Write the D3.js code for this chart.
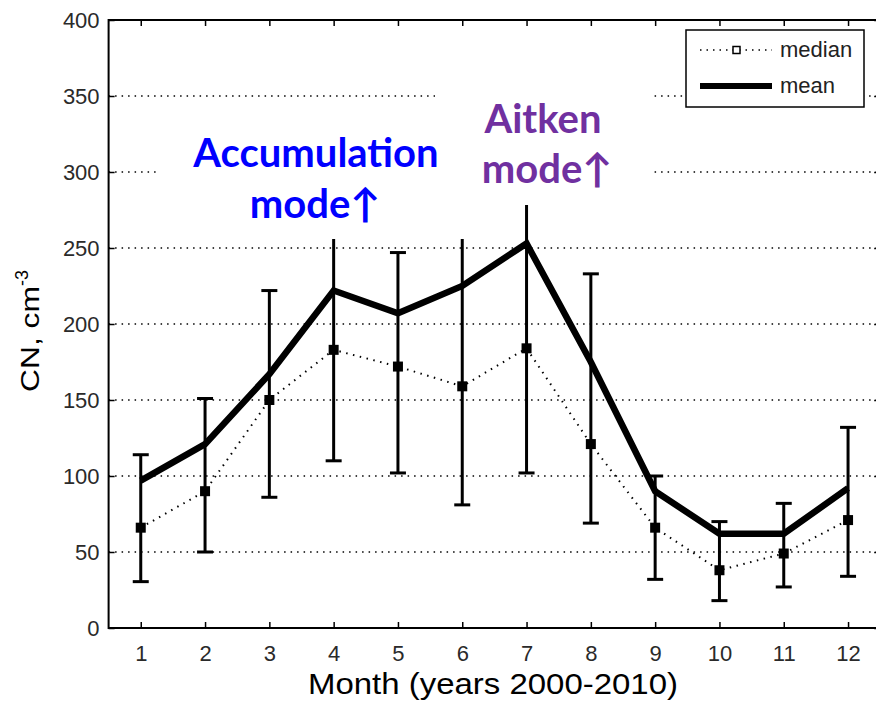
<!DOCTYPE html>
<html>
<head>
<meta charset="utf-8">
<script src="https://cdn.jsdelivr.net/npm/d3@7"></script>
<style>
  html, body { margin: 0; padding: 0; background: #fff; }
  svg { display: block; }
  .tick text { font-family: "Liberation Sans", Arial, sans-serif; fill: #2a2a2a; }
</style>
</head>
<body>
<svg id="chart" width="876" height="701"></svg>
<script>
// Monthly CN concentration, cm^-3 (2000-2010)
const months = [1, 2, 3, 4, 5, 6, 7, 8, 9, 10, 11, 12];
const meanValues = [97, 121, 167, 222, 207, 225, 253, 175, 90, 62, 62, 92];
const medianValues = [66, 90, 150, 183, 172, 159, 184, 121, 66, 38, 49, 71];
const errorLow = [30.5, 50, 86, 110, 102, 81, 102, 69, 32, 18, 27, 34];
const errorHigh = [114, 151, 222, 290, 247, 300, 290, 233, 100, 70, 82, 132];
const yTicks = [0, 50, 100, 150, 200, 250, 300, 350, 400];
const gridValues = [50, 100, 150, 200, 250, 300, 350];
const legendLabels = ["median", "mean"];

const svg = d3.select("#chart");
const x = d3.scaleLinear().domain([0.5, 12.5]).range([108.6, 880.2]);
const y = d3.scaleLinear().domain([0, 400]).range([628, 20]);
const [x0, x1] = x.range();
const [yb, yt] = y.range();

// dotted horizontal grid
svg.append("g").selectAll("line").data(gridValues).join("line")
  .attr("x1", x0).attr("x2", x1)
  .attr("y1", d => y(d)).attr("y2", d => y(d))
  .attr("stroke", "#000").attr("stroke-width", 1.3)
  .attr("stroke-dasharray", "1.5,5");

// error bars
const eb = svg.append("g").attr("stroke", "#000").attr("stroke-width", 3).attr("fill", "none");
months.forEach((m, i) => {
  const cx = x(m);
  eb.append("line").attr("x1", cx).attr("x2", cx).attr("y1", y(errorLow[i])).attr("y2", y(errorHigh[i]));
  eb.append("line").attr("x1", cx - 8).attr("x2", cx + 8).attr("y1", y(errorLow[i])).attr("y2", y(errorLow[i]));
  eb.append("line").attr("x1", cx - 8).attr("x2", cx + 8).attr("y1", y(errorHigh[i])).attr("y2", y(errorHigh[i]));
});

// median: dotted line with square markers
const line = d3.line().x(d => x(d[0])).y(d => y(d[1]));
svg.append("path")
  .datum(months.map((m, i) => [m, medianValues[i]]))
  .attr("d", line)
  .attr("fill", "none").attr("stroke", "#000").attr("stroke-width", 2)
  .attr("stroke-dasharray", "1.5,5.5");
svg.append("g").selectAll("rect").data(months).join("rect")
  .attr("x", (d, i) => x(d) - 5).attr("y", (d, i) => y(medianValues[i]) - 5)
  .attr("width", 10).attr("height", 10).attr("fill", "#000");

// mean: thick solid line
svg.append("path")
  .datum(months.map((m, i) => [m, meanValues[i]]))
  .attr("d", line)
  .attr("fill", "none").attr("stroke", "#000").attr("stroke-width", 6.5)
  .attr("stroke-linejoin", "miter");

// annotation boxes
const notes = svg.append("g");
notes.append("rect").attr("x", 157).attr("y", 100).attr("width", 313).attr("height", 139).attr("fill", "#fff");
notes.append("rect").attr("x", 435).attr("y", 88).attr("width", 215).attr("height", 117).attr("fill", "#fff");
const noteFont = "Lato, 'Open Sans', 'DejaVu Sans', sans-serif";
function note(txt, cx, by, color) {
  notes.append("text").attr("x", cx).attr("y", by)
    .attr("text-anchor", "middle")
    .attr("font-family", noteFont).attr("font-weight", "bold")
    .attr("font-size", 40).attr("fill", color).text(txt);
}
note("Accumulation", 316, 167, "#0000ff");
note("mode\u2191", 315, 218, "#0000ff");
note("Aitken", 543, 133, "#7030a0");
note("mode\u2191", 547, 183, "#7030a0");

// axes
const axB = d3.axisBottom(x).tickValues(months).tickSizeInner(-6).tickSizeOuter(0).tickPadding(17);
const axT = d3.axisTop(x).tickValues(months).tickSizeInner(-6).tickSizeOuter(0).tickFormat("");
const axL = d3.axisLeft(y).tickValues(yTicks).tickSizeInner(-6).tickSizeOuter(0).tickPadding(9);
const axR = d3.axisRight(y).tickValues(yTicks).tickSizeInner(-6).tickSizeOuter(0).tickFormat("");
function styleAxis(g) {
  g.selectAll("path.domain").remove();
  g.selectAll(".tick line").attr("stroke", "#000").attr("stroke-width", 1.5);
  g.selectAll(".tick text").attr("font-size", 22);
}
svg.append("g").attr("transform", `translate(0,${yb})`).call(axB).call(styleAxis);
svg.append("g").attr("transform", `translate(0,${yt})`).call(axT).call(styleAxis);
svg.append("g").attr("transform", `translate(${x0},0)`).call(axL).call(styleAxis);
svg.append("g").attr("transform", `translate(${x1},0)`).call(axR).call(styleAxis);
svg.append("rect").attr("x", x0).attr("y", yt).attr("width", x1 - x0).attr("height", yb - yt)
  .attr("fill", "none").attr("stroke", "#000").attr("stroke-width", 2);

// axis titles
const titleFont = "'Liberation Sans', Arial, sans-serif";
svg.append("text").attr("x", 308).attr("y", 694)
  .attr("font-family", titleFont).attr("font-size", 30).attr("fill", "#000")
  .attr("textLength", 370).attr("lengthAdjust", "spacingAndGlyphs")
  .text("Month (years 2000-2010)");
const yTitle = svg.append("text").attr("transform", "translate(39,392) rotate(-90)")
  .attr("font-family", titleFont).attr("font-size", 26).attr("fill", "#000");
yTitle.append("tspan").attr("textLength", 106).attr("lengthAdjust", "spacingAndGlyphs").text("CN, cm");
yTitle.append("tspan").attr("dy", -11).attr("font-size", 18).text("-3");

// legend
const lg = svg.append("g");
lg.append("rect").attr("x", 686).attr("y", 30).attr("width", 178).attr("height", 77)
  .attr("fill", "#fff").attr("stroke", "#000").attr("stroke-width", 1.5);
lg.append("line").attr("x1", 700).attr("x2", 772).attr("y1", 50).attr("y2", 50)
  .attr("stroke", "#000").attr("stroke-width", 1.5).attr("stroke-dasharray", "1.5,5");
lg.append("rect").attr("x", 733).attr("y", 46.5).attr("width", 7).attr("height", 7)
  .attr("fill", "#fff").attr("stroke", "#000").attr("stroke-width", 1.5);
lg.append("line").attr("x1", 700).attr("x2", 772).attr("y1", 86).attr("y2", 86)
  .attr("stroke", "#000").attr("stroke-width", 6);
lg.selectAll("text").data(legendLabels).join("text")
  .attr("x", 780).attr("y", (d, i) => 57 + i * 36)
  .attr("font-family", titleFont).attr("font-size", 22).attr("fill", "#222")
  .text(d => d);
</script>
</body>
</html>
